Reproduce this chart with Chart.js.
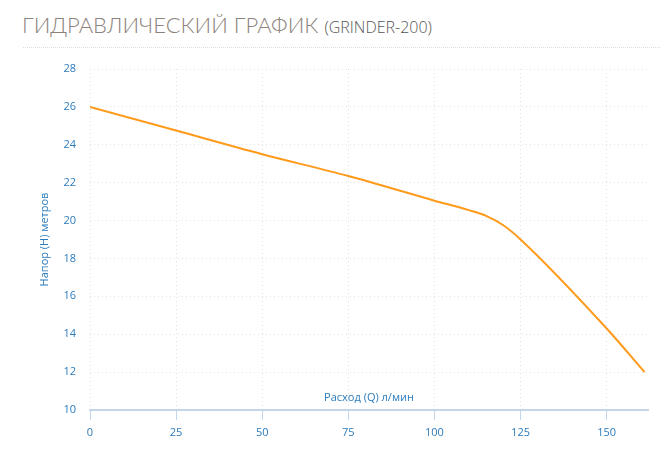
<!DOCTYPE html>
<html><head><meta charset="utf-8">
<script src="https://cdn.jsdelivr.net/npm/chart.js@4"></script>
<style>
body{margin:0;background:#fff;width:671px;height:471px;overflow:hidden;position:relative}
#title{position:absolute;left:22px;top:11px;font-family:Lato,"Open Sans",sans-serif;font-weight:300;font-size:22px;color:#8c827c;letter-spacing:0px;white-space:nowrap}
#title span{font-size:16px;color:#555;font-family:"Open Sans",sans-serif}
#rule{position:absolute;left:23px;right:11px;top:47px;border-top:1px dotted #ddd}
#wrap{position:absolute;left:0;top:0;width:671px;height:471px}
</style></head><body>
<div id="title">ГИДРАВЛИЧЕСКИЙ ГРАФИК <span>(GRINDER-200)</span></div>
<div id="rule"></div>
<div id="wrap"><canvas id="c"></canvas></div>
<script>
const flow = [0, 25, 50, 75, 100, 110, 115, 120, 125, 150, 161];
const head = [26, 24.75, 23.5, 22.35, 21.05, 20.55, 20.25, 19.75, 19.0, 14.3, 12];
const yTicks = [10, 12, 14, 16, 18, 20, 22, 24, 26, 28];
const xTicks = [0, 25, 50, 75, 100, 125, 150];

const blue = '#2b7bbd';
const xTitle = {
  id: 'xTitle',
  afterDraw(chart) {
    const {ctx, chartArea} = chart;
    ctx.save();
    ctx.font = '11px "Open Sans", sans-serif';
    ctx.fillStyle = blue;
    ctx.textAlign = 'center';
    ctx.fillText('Расход (Q) л/мин', (chartArea.left + chartArea.right) / 2, chartArea.bottom - 9);
    ctx.restore();
  }
};

new Chart(document.getElementById('c'), {
  type: 'line',
  data: {
    datasets: [{
      data: flow.map((x, i) => ({x, y: head[i]})),
      borderColor: '#ff9a1a',
      borderWidth: 2,
      pointRadius: 0,
      cubicInterpolationMode: 'monotone',
      fill: false
    }]
  },
  plugins: [xTitle],
  options: {
    responsive: true,
    maintainAspectRatio: false,
    animation: false,
    layout: {padding: {left: 36, right: 23, top: 69, bottom: 0}},
    plugins: {legend: {display: false}, tooltip: {enabled: false}},
    scales: {
      x: {
        type: 'linear', min: 0, max: 162,
        afterBuildTicks(s) { s.ticks = xTicks.map(v => ({value: v})); },
        afterFit(s) { s.height = 61; },
        ticks: {color: blue, font: {family: '"Open Sans", sans-serif', size: 11}, padding: 6},
        grid: {color: '#e2e2e2', tickColor: '#c5d5e8', tickLength: 10},
        border: {color: '#c5d5e8', width: 2, dash: [1, 3]}
      },
      y: {
        min: 10, max: 28,
        afterBuildTicks(s) { s.ticks = yTicks.map(v => ({value: v})); },
        afterFit(s) { s.width = 54; },
        title: {display: true, text: 'Напор (H) метров', color: blue, font: {family: '"Open Sans", sans-serif', size: 11}, padding: 2},
        ticks: {color: blue, font: {family: '"Open Sans", sans-serif', size: 11}, padding: 14},
        grid: {color: '#e2e2e2', drawTicks: false},
        border: {display: false, dash: [1, 3]}
      }
    }
  }
});
</script>
</body></html>
